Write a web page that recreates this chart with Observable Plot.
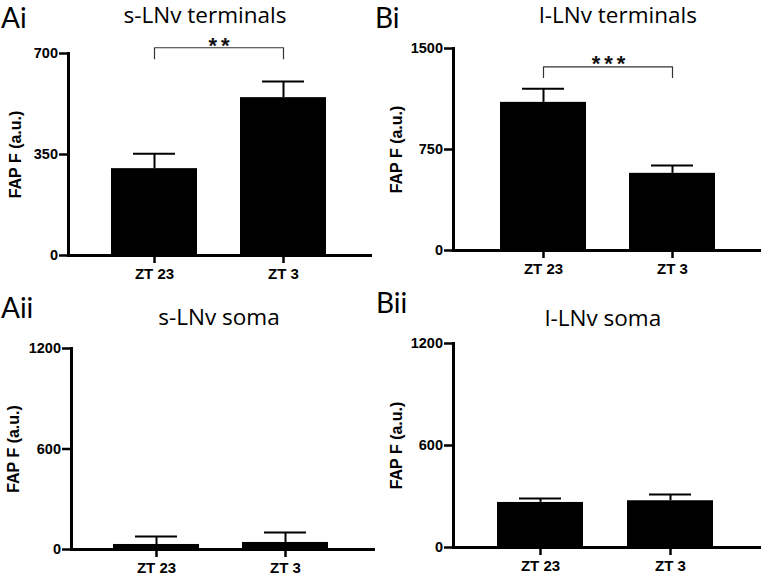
<!DOCTYPE html>
<html><head><meta charset="utf-8">
<script src="https://cdn.jsdelivr.net/npm/d3@7"></script>
<script src="https://cdn.jsdelivr.net/npm/@observablehq/plot@0.6"></script>
<style>
body{margin:0;background:#fff;}
#wrap{position:relative;width:762px;height:581px;overflow:hidden;background:#fff;}
.panel{position:absolute;}
#overlay{position:absolute;left:0;top:0;}
.stars text{letter-spacing:4px;}
</style></head><body><div id="wrap"></div>
<script>
// ---- data ----
const categories = ["ZT 23", "ZT 3"];
const panelIds = ["Ai", "Bi", "Aii", "Bii"];
const panelTitles = ["s-LNv terminals", "l-LNv terminals", "s-LNv soma", "l-LNv soma"];
const yLabel = "FAP F (a.u.)";
const yMax = [700, 1500, 1200, 1200];
const yTicks = [[0, 350, 700], [0, 750, 1500], [0, 600, 1200], [0, 600, 1200]];
const meanAi = [301, 547];
const semAi = [52, 56];
const meanBi = [1100, 573];
const semBi = [101, 58];
const meanAii = [30, 42];
const semAii = [48, 59];
const meanBii = [265, 275];
const semBii = [23, 37];
const sigStars = ["**", "***", null, null];
const sigBracket = [720, 1364, null, null];
const sigBracketEnd = [682, 1285, null, null];
const sigStarY = [742, 1427, null, null];

const means = [meanAi, meanBi, meanAii, meanBii];
const sems = [semAi, semBi, semAii, semBii];

// ---- layout (styles only) ----
const layout = [
  {left: 0,   top: 0,   w: 381, h: 290, ml: 68, mt: 53, mb: 35, mr: 9, po: 0.34, al: 0.48, ldx: -53, sdx: 66.5, sdy: 5},
  {left: 381, top: 0,   w: 381, h: 290, ml: 72, mt: 48, mb: 40, mr: 1, po: 0.354, al: 0.5, ldx: -57, sdx: 67, sdy: 6},
  {left: 0,   top: 290, w: 381, h: 291, ml: 71, mt: 58, mb: 32, mr: 6, po: 0.338, al: 0.47, ldx: -58, sdx: 65, sdy: 0},
  {left: 381, top: 290, w: 381, h: 291, ml: 72, mt: 53, mb: 34, mr: 1, po: 0.35, al: 0.48, ldx: -57, sdx: 65, sdy: 0}
];
const FONT = "'Liberation Sans', Arial, sans-serif";
const wrap = document.getElementById("wrap");

panelIds.forEach((id, i) => {
  const L = layout[i];
  const data = categories.map((c, j) => ({cat: c, mean: means[i][j], top: means[i][j] + sems[i][j]}));
  const marks = [
    Plot.barY(data, {x: "cat", y: "mean", fill: "black"}),
    Plot.ruleX(data, {x: "cat", y1: "mean", y2: "top", stroke: "black", strokeWidth: 2}),
    Plot.tickY(data, {x: "cat", y: "top", stroke: "black", strokeWidth: 2, inset: 22}),
    Plot.ruleY([0], {stroke: "black", strokeWidth: 3}),
    Plot.frame({anchor: "left", stroke: "black", strokeWidth: 3}),
    Plot.axisY({ticks: yTicks[i], tickFormat: "d", tickSize: 9, tickPadding: 1.5, fontSize: 14.5, fontWeight: "bold", strokeWidth: 2.5, label: null, fill: "black"}),
    Plot.axisX({tickSize: 8, tickPadding: 5, fontSize: 15, fontWeight: "bold", strokeWidth: 2.5, label: null, fill: "black"}),
    Plot.text([yLabel], {frameAnchor: "left", textAnchor: "middle", lineAnchor: "middle", rotate: -90, dx: L.ldx, fontSize: 16, fontWeight: "bold", fill: "black"})
  ];
  if (sigStars[i]) {
    const b = sigBracket[i], e = sigBracketEnd[i];
    const pts = [
      {x: categories[0], y: e}, {x: categories[0], y: b},
      {x: categories[1], y: b}, {x: categories[1], y: e}
    ];
    marks.push(Plot.line(pts, {x: "x", y: "y", stroke: "#333", strokeWidth: 1.2}));
    marks.push(Plot.text([{s: sigStars[i], x: categories[0], y: sigStarY[i]}], {x: "x", y: "y", text: "s", dx: L.sdx, dy: L.sdy, fontSize: 22, fontWeight: "bold", fill: "#111", className: "stars"}));
  }
  const chart = Plot.plot({
    width: L.w, height: L.h,
    marginLeft: L.ml, marginTop: L.mt, marginBottom: L.mb, marginRight: L.mr,
    style: {fontFamily: FONT, color: "black", background: "white", overflow: "visible"},
    x: {domain: categories, paddingInner: 0.335, paddingOuter: L.po, align: L.al, axis: null},
    y: {domain: [0, yMax[i]], axis: null},
    marks
  });
  chart.classList.add("panel");
  chart.style.left = L.left + "px";
  chart.style.top = L.top + "px";
  wrap.appendChild(chart);
});

// titles and panel letters
const ns = "http://www.w3.org/2000/svg";
const ov = document.createElementNS(ns, "svg");
ov.setAttribute("id", "overlay");
ov.setAttribute("width", 762); ov.setAttribute("height", 581);
const titlePos = [[205, 23], [618, 23], [219, 325], [603, 326]];
const letterPos = [[1, 28], [375, 28], [1, 318], [376, 313]];
function addText(str, x, y, size, anchor, family) {
  const t = document.createElementNS(ns, "text");
  t.setAttribute("x", x); t.setAttribute("y", y);
  t.setAttribute("font-family", family);
  t.setAttribute("font-size", size);
  t.setAttribute("text-anchor", anchor);
  t.setAttribute("fill", "black");
  t.textContent = str;
  ov.appendChild(t);
}
panelTitles.forEach((s, i) => addText(s, titlePos[i][0], titlePos[i][1], 22.5, "middle", "'Open Sans', sans-serif"));
panelIds.forEach((s, i) => addText(s, letterPos[i][0], letterPos[i][1], 28, "start", "Lato, 'Open Sans', sans-serif"));
wrap.appendChild(ov);
</script>
</body></html>
